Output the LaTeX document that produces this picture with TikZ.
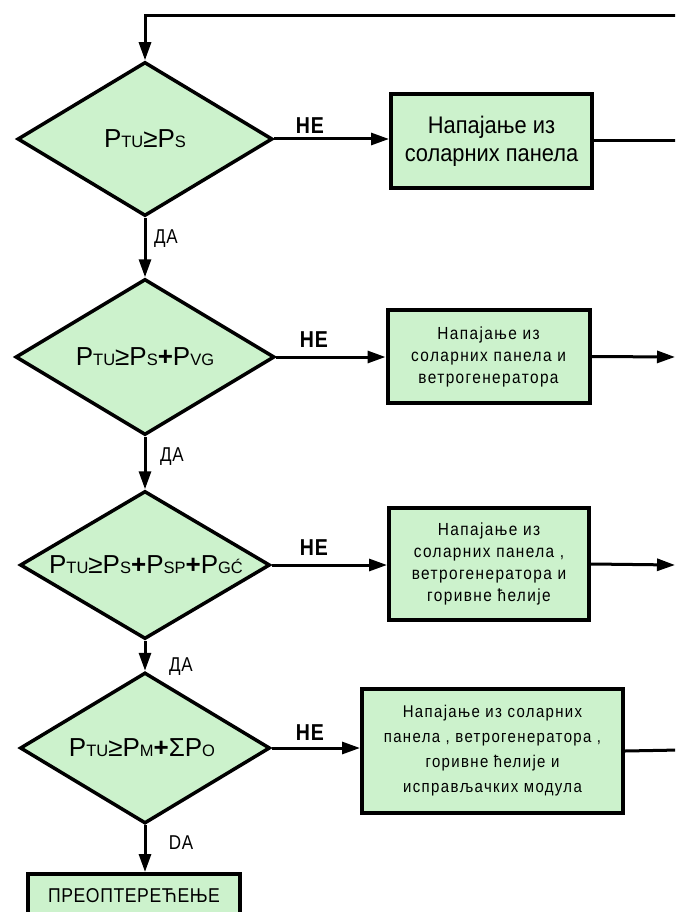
\documentclass[tikz,border=0pt]{standalone}
\usepackage{fontspec}
\setmainfont{Liberation Sans}
\newfontfamily\nrwfont[FakeStretch=0.91]{Liberation Sans}
\newfontfamily\spcfont[FakeStretch=0.88,LetterSpace=8]{Liberation Sans}
\newfontfamily\capsfont[FakeStretch=0.88,LetterSpace=3]{Liberation Sans}
\newfontfamily\lblfont[FakeStretch=0.85,LetterSpace=4]{Liberation Sans}
\usetikzlibrary{shapes.geometric,arrows.meta}
\definecolor{boxgreen}{RGB}{204,242,204}
\newcommand\Pq[1]{P{\fontsize{16.5}{16.5}\selectfont #1}}
\newcommand\pls{\textbf{+}}
\tikzset{
  decis/.style n args={2}{diamond, draw=black, fill=boxgreen, line width=3.5pt,
    inner sep=0pt, minimum width=#1, minimum height=#2},
  procbox/.style n args={2}{rectangle, draw=black, fill=boxgreen, line width=4pt,
    inner sep=0pt, minimum width=#1, minimum height=#2, align=center},
  formula/.style={font=\fontsize{26}{26}\selectfont, inner sep=0pt},
  conn/.style={line width=3pt, -{Triangle[length=18pt,width=12pt]}},
  plain/.style={line width=3pt},
  nelbl/.style={font=\lblfont\bfseries\fontsize{23}{23}\selectfont, inner sep=0pt},
  dalbl/.style={font=\lblfont\fontsize{20}{20}\selectfont, inner sep=0pt},
}
\begin{document}
\begin{tikzpicture}[x=1pt,y=-1pt]
\useasboundingbox (0,0) rectangle (675,912);
\begin{scope}
\clip (0,0) rectangle (675,912);
% decisions
\node[decis={255pt}{154pt}] (d1) at (145,139) {};
\node[formula] (d1t) at (145,139) {\Pq{TU}≥\Pq{S}};
\node[decis={259pt}{156pt}] (d2) at (145,357) {};
\node[formula] (d2t) at (145,357) {\Pq{TU}≥\Pq{S}\pls\Pq{VG}};
\node[decis={250pt}{148pt}] (d3) at (145,565) {};
\node[formula] (d3t) at (146,565) {\Pq{TU}≥\Pq{S}\pls\Pq{SP}\pls\Pq{GĆ}};
\node[decis={250pt}{151pt}] (d4) at (145,748) {};
\node[formula] (d4t) at (142,748) {\Pq{TU}≥\Pq{M}\pls Σ\Pq{O}};
% boxes
\node[procbox={201pt}{94pt}, font=\nrwfont\fontsize{24}{28}\selectfont] (b1) at (491.5,141)
  {Напајање из\\соларних панела};
\node[procbox={202pt}{93pt}, font=\spcfont\fontsize{17.5}{22}\selectfont] (b2) at (488.5,356.5)
  {Напајање из\\соларних панела и\\ветрогенератора};
\node[procbox={200pt}{112pt}, font=\spcfont\fontsize{17.5}{22}\selectfont] (b3) at (489,564)
  {Напајање из\\соларних панела ,\\ветрогенератора и\\горивне ћелије};
\node[procbox={261pt}{124pt}, font=\spcfont\fontsize{17}{25}\selectfont] (b4) at (492.5,751)
  {Напајање из соларних\\панела , ветрогенератора ,\\горивне ћелије и\\исправљачких модула};
\node[procbox={212pt}{44pt}, font=\capsfont\fontsize{20}{20}\selectfont, anchor=north] (b5) at (134,872)
  {ПРЕОПТЕРЕЋЕЊЕ};
% labels
\node[nelbl] (ne1) at (310,126) {НЕ};
\node[nelbl] (ne2) at (314,340) {НЕ};
\node[nelbl] (ne3) at (314,548) {НЕ};
\node[nelbl] (ne4) at (310,733) {НЕ};
\node[dalbl] (da1) at (166,239) {ДА};
\node[dalbl] (da2) at (172,457) {ДА};
\node[dalbl] (da3) at (181,667) {ДА};
\node[dalbl] (da4) at (181,843) {DA};
% right edge coordinates
\coordinate (top) at (680,16);
\coordinate (r1) at (680,141);
\coordinate (r2) at (675,357);
\coordinate (r3) at (675,565);
\coordinate (r4) at (680,750);
% connectors
\draw[conn] (top) -| (d1.north);
\draw[conn] (d1.south) -- (d2.north);
\draw[conn] (d2.south) -- (d3.north);
\draw[conn] (d3.south) -- (d4.north);
\draw[conn] (d4.south) -- (d4.south |- b5.north);
\draw[conn] (d1.east) -- (d1.east -| b1.west);
\draw[conn] (d2.east) -- (d2.east -| b2.west);
\draw[conn] (d3.east) -- (d3.east -| b3.west);
\draw[conn] (d4.east) -- (d4.east -| b4.west);
\draw[plain] (b1.east) -- (r1);
\draw[conn] (b2.east) -- (r2);
\draw[conn] (b3.east) -- (r3);
\draw[plain] (b4.east) -- (r4);
\end{scope}
\end{tikzpicture}
\end{document}
